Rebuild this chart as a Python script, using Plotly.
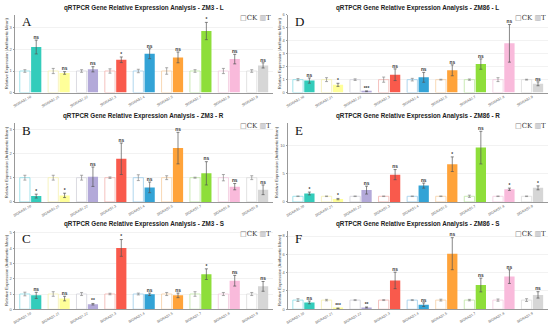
import plotly.graph_objects as go

genes = ["SlGRAS1.10", "SlGRAS1.21", "SlGRAS1.22", "SlGRAS1.3", "SlGRAS1.4",
         "SlGRAS1.5", "SlGRAS1.7", "SlGRAS1.8", "SlGRAS1.9"]
bar_colors = ["#33CCBB", "#FFFF99", "#B3A9D9", "#F95A4C", "#33A3D6",
              "#FFA33A", "#8EDE3A", "#F9BADB", "#D6D6D6"]
ck_line_colors = ["#8ADCE6", "#F5F0B0", "#D2D2DA", "#F2B3AE", "#9CCBEA",
                  "#F6CFA3", "#BEE6A3", "#F2C9DE", "#DADADA"]

# A: ZM3 - L
zm3_l_ck = [1, 1, 1, 1, 1, 1, 1, 1, 1]
zm3_l_ck_err = [0.06, 0.12, 0.06, 0.1, 0.08, 0.15, 0.06, 0.12, 0.06]
zm3_l_t = [2.11, 0.91, 1.08, 1.52, 1.80, 1.63, 2.85, 1.55, 1.26]
zm3_l_t_err = [0.32, 0.06, 0.12, 0.13, 0.23, 0.25, 0.40, 0.22, 0.12]
zm3_l_sig = ["ns", "ns", "ns", "*", "ns", "ns", "*", "ns", "ns"]

# B: ZM3 - R
zm3_r_ck = [1, 1, 1, 1, 1, 1, 1, 1, 1]
zm3_r_ck_err = [0.1, 0.1, 0.1, 0.03, 0.12, 0.08, 0.02, 0.13, 0.08]
zm3_r_t = [0.24, 0.27, 1.04, 1.78, 0.60, 2.22, 1.18, 0.63, 0.50]
zm3_r_t_err = [0.08, 0.09, 0.40, 0.65, 0.22, 0.65, 0.48, 0.13, 0.20]
zm3_r_sig = ["*", "*", "ns", "ns", "ns", "ns", "ns", "ns", "ns"]

# C: ZM3 - S
zm3_s_ck = [1, 1, 1, 1, 1, 1, 1, 1, 1]
zm3_s_ck_err = [0.12, 0.15, 0.1, 0.05, 0.06, 0.1, 0.15, 0.1, 0.1]
zm3_s_t = [0.91, 0.70, 0.33, 4.02, 0.98, 0.91, 2.30, 1.87, 1.50]
zm3_s_t_err = [0.20, 0.15, 0.05, 0.55, 0.08, 0.15, 0.35, 0.35, 0.32]
zm3_s_sig = ["ns", "ns", "**", "*", "ns", "ns", "*", "ns", "ns"]

# D: ZM86 - L
zm86_l_ck = [1, 1, 1, 1, 1, 1, 1, 1, 1]
zm86_l_ck_err = [0.08, 0.15, 0.06, 0.2, 0.1, 0.03, 0.05, 0.15, 0.03]
zm86_l_t = [0.93, 0.60, 0.10, 1.38, 1.18, 1.72, 2.20, 3.80, 0.68]
zm86_l_t_err = [0.20, 0.12, 0.03, 0.45, 0.38, 0.42, 0.40, 1.45, 0.15]
zm86_l_sig = ["ns", "*", "***", "ns", "ns", "ns", "ns", "ns", "ns"]

# E: ZM86 - R
zm86_r_ck = [1, 1, 1, 1, 1, 1, 1, 1, 1]
zm86_r_ck_err = [0.05, 0.05, 0.05, 0.05, 0.05, 0.05, 0.2, 0.05, 0.05]
zm86_r_t = [1.50, 0.50, 2.10, 4.85, 2.90, 6.70, 9.65, 2.25, 2.50]
zm86_r_t_err = [0.25, 0.12, 0.70, 0.90, 0.45, 1.30, 2.90, 0.20, 0.35]
zm86_r_sig = ["*", "*", "ns", "ns", "ns", "*", "ns", "*", "*"]

# F: ZM86 - S
zm86_s_ck = [1, 1, 1, 1, 1, 1, 1, 1, 1]
zm86_s_ck_err = [0.15, 0.08, 0.05, 0.05, 0.05, 0.1, 0.08, 0.12, 0.15]
zm86_s_t = [0.75, 0.10, 0.20, 3.15, 0.50, 6.07, 2.65, 3.57, 1.57]
zm86_s_t_err = [0.15, 0.03, 0.05, 0.90, 0.20, 1.75, 0.75, 0.75, 0.35]
zm86_s_sig = ["ns", "***", "**", "ns", "ns", "ns", "ns", "ns", "ns"]

panels = [
    ("A", "ZM3 - L", zm3_l_ck, zm3_l_ck_err, zm3_l_t, zm3_l_t_err, zm3_l_sig, 3.6, 1),
    ("B", "ZM3 - R", zm3_r_ck, zm3_r_ck_err, zm3_r_t, zm3_r_t_err, zm3_r_sig, 3.25, 1),
    ("C", "ZM3 - S", zm3_s_ck, zm3_s_ck_err, zm3_s_t, zm3_s_t_err, zm3_s_sig, 5.1, 1),
    ("D", "ZM86 - L", zm86_l_ck, zm86_l_ck_err, zm86_l_t, zm86_l_t_err, zm86_l_sig, 6.0, 1),
    ("E", "ZM86 - R", zm86_r_ck, zm86_r_ck_err, zm86_r_t, zm86_r_t_err, zm86_r_sig, 14.0, 5),
    ("F", "ZM86 - S", zm86_s_ck, zm86_s_ck_err, zm86_s_t, zm86_s_t_err, zm86_s_sig, 8.5, 2),
]

W, H = 550, 328
col_x = [(13, 272), (287, 548)]
row_y = [(12, 91), (122, 202), (232, 311)]

fig = go.Figure()
layout = {}
annotations = []
pos = list(range(len(genes)))
ck_x = [p - 0.2 for p in pos]
t_x = [p + 0.2 for p in pos]

for k, (letter, name, ck, ck_err, t, t_err, sig, ymax, dtick) in enumerate(panels):
    col = k // 3
    row = k % 3
    idx = k + 1
    xa = "x" if idx == 1 else f"x{idx}"
    ya = "y" if idx == 1 else f"y{idx}"
    xk = "xaxis" if idx == 1 else f"xaxis{idx}"
    yk = "yaxis" if idx == 1 else f"yaxis{idx}"
    x0, x1 = col_x[col]
    yt, yb = row_y[row]
    layout[xk] = dict(
        domain=[x0 / W, x1 / W], anchor=ya, range=[-0.55, len(genes) - 0.45],
        tickvals=pos, ticktext=genes, tickangle=-30,
        tickfont=dict(size=3.5, color="#555", family="Liberation Sans"),
        showline=True, linecolor="#999", linewidth=0.8, ticks="",
        showgrid=False, zeroline=False,
    )
    layout[yk] = dict(
        domain=[1 - yb / H, 1 - yt / H], anchor=xa, range=[0, ymax], dtick=dtick,
        tickfont=dict(size=4, color="#666", family="Liberation Sans"),
        showline=True, linecolor="#999", linewidth=0.8, ticks="outside", ticklen=1.5,
        tickcolor="#999",
        showgrid=True, gridcolor="#F2F2F2", gridwidth=0.5, zeroline=False,
        title=dict(text="Relative Expression (Arithmetic Mean)",
                   font=dict(size=4.2, color="#444", family="Liberation Sans"),
                   standoff=1),
    )
    fig.add_trace(go.Bar(
        x=ck_x, y=ck, width=0.36, xaxis=xa, yaxis=ya,
        marker=dict(color="white", line=dict(color=ck_line_colors, width=0.8)),
        error_y=dict(type="data", array=ck_err, color="#888", thickness=0.7, width=1.5),
        showlegend=False, hoverinfo="skip",
    ))
    fig.add_trace(go.Bar(
        x=t_x, y=t, width=0.36, xaxis=xa, yaxis=ya,
        marker=dict(color=bar_colors, line=dict(width=0)),
        error_y=dict(type="data", array=t_err, color="#555", thickness=0.7, width=1.5),
        showlegend=False, hoverinfo="skip",
    ))
    fig.add_trace(go.Scatter(
        x=t_x, y=[a + b for a, b in zip(t, t_err)], xaxis=xa, yaxis=ya,
        mode="text", text=[f"<b>{s}</b>" for s in sig], textposition="top center",
        textfont=dict(size=4.8, color="#333", family="Liberation Sans"),
        showlegend=False, hoverinfo="skip", cliponaxis=False,
    ))
    annotations.append(dict(
        xref=f"{xa} domain", yref=f"{ya} domain", x=0.5, y=1, yshift=1,
        xanchor="center", yanchor="bottom", showarrow=False,
        text=f"<b>qRTPCR Gene Relative Expression Analysis - {name}</b>",
        font=dict(size=6.3, color="#222", family="Liberation Sans"),
    ))
    annotations.append(dict(
        xref=f"{xa} domain", yref=f"{ya} domain", x=0.018, y=1.03,
        xanchor="left", yanchor="top", showarrow=False, text=letter,
        font=dict(size=13, color="#111", family="Liberation Serif"),
    ))
    annotations.append(dict(
        xref=f"{xa} domain", yref=f"{ya} domain", x=1.0, y=1.04,
        xanchor="right", yanchor="top", showarrow=False,
        text="<span style='color:#777'>□</span>CK <span style='color:#999'>▥</span>T",
        font=dict(size=7, color="#333", family="DejaVu Serif"),
    ))

fig.update_layout(
    width=W, height=H, margin=dict(l=0, r=0, t=0, b=0),
    paper_bgcolor="white", plot_bgcolor="white",
    annotations=annotations, **layout,
)
fig.write_html(
    "out.html",
    config={"displayModeBar": False},
    post_script="document.body.style.margin='0';document.body.style.overflow='hidden';",
)
